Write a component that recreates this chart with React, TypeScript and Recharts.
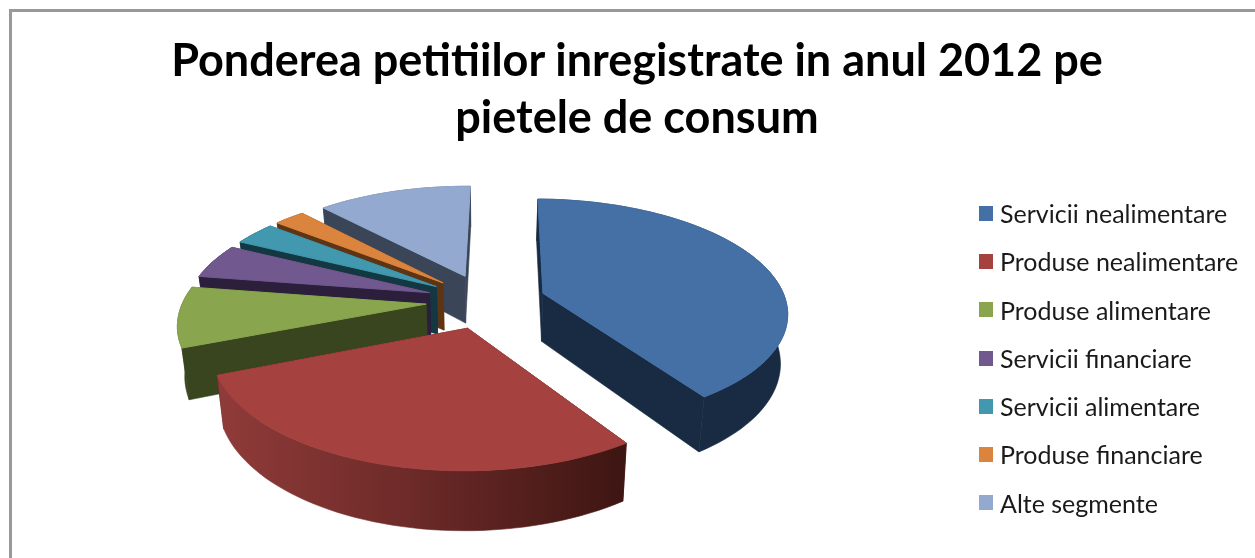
import { PieChart, Pie, Cell, Legend } from "recharts";

const categories = [
  "Servicii nealimentare",
  "Produse nealimentare",
  "Produse alimentare",
  "Servicii financiare",
  "Servicii alimentare",
  "Produse financiare",
  "Alte segmente",
];
const shares = [40.4, 28.3, 8.5, 4.9, 3.3, 2.4, 12.1];
const titleLines = ["Ponderea petitiilor inregistrate in anul 2012 pe", "pietele de consum"];

const topColors = ["#4470A5", "#A54240", "#89A54E", "#71588F", "#4198AF", "#DB843D", "#93A9CF"];
const wallColors = ["#182B42", "url(#redWall)", "#38451F", "#2B1F3C", "#133842", "#5E3514", "#3A4558"];

// painted back to front, so the pie goes through the slices in reverse
const rows = categories
  .map((name, i) => ({ name, value: shares[i], index: i }))
  .reverse();

const FONT = "Lato, Carlito, sans-serif";
const TILT = 0.457;
const PERSPECTIVE = 0.155;
const EXPLODE = 60;
const DEPTH = 48.5;

function Slice3D(props: any) {
  const { cx, cy, outerRadius: R, startAngle, endAngle, fill, payload } = props;
  const index = payload.index;
  const mid = ((startAngle + endAngle) / 2) * (Math.PI / 180);
  const ox = EXPLODE * Math.cos(mid);
  const oz = EXPLODE * Math.sin(mid);

  const project = (X: number, Z: number, lower: boolean) => {
    const s = 1 / (1 + (PERSPECTIVE * Z) / R);
    const x = cx + X * s * (lower ? 0.976 : 1);
    const y = cy - TILT * Z * s + (lower ? DEPTH * s : 0);
    return [x, y];
  };
  const ptsOf = (list: number[][]) => list.map((p) => p[0].toFixed(1) + "," + p[1].toFixed(1)).join(" ");

  const rim: number[][] = [];
  const steps = Math.max(4, Math.ceil(Math.abs(endAngle - startAngle) / 2));
  for (let i = 0; i <= steps; i++) {
    const a = ((startAngle + ((endAngle - startAngle) * i) / steps) * Math.PI) / 180;
    rim.push([ox + R * Math.cos(a), oz + R * Math.sin(a)]);
  }
  const top = [[ox, oz], ...rim].map((p) => project(p[0], p[1], false));
  const rimTop = rim.map((p) => project(p[0], p[1], false));
  const rimLow = rim.map((p) => project(p[0], p[1], true));
  const apexTop = project(ox, oz, false);
  const apexLow = project(ox, oz, true);
  const wall = wallColors[index];
  const sideFill = index === 1 ? "#3D1512" : wall;

  return (
    <g>
      <polygon
        points={ptsOf([apexTop, rimTop[0], rimLow[0], apexLow])}
        fill={sideFill}
        stroke={sideFill}
        strokeWidth={0.6}
      />
      <polygon
        points={ptsOf([apexTop, rimTop[steps], rimLow[steps], apexLow])}
        fill={sideFill}
        stroke={sideFill}
        strokeWidth={0.6}
      />
      <polygon points={ptsOf([...rimTop, ...rimLow.slice().reverse()])} fill={wall} stroke={wall} strokeWidth={0.6} />
      <polygon points={ptsOf(top)} fill={fill} stroke={fill} strokeWidth={1} />
    </g>
  );
}

function LegendList() {
  return (
    <div style={{ fontFamily: FONT, fontSize: 25, color: "#1a1a1a", lineHeight: "48.3px" }}>
      {categories.map((name, i) => (
        <div key={name} style={{ display: "flex", alignItems: "center", whiteSpace: "nowrap" }}>
          <span style={{ width: 14, height: 15, background: topColors[i], marginRight: 7 }} />
          {name}
        </div>
      ))}
    </div>
  );
}

export default function App() {
  return (
    <div
      style={{
        position: "absolute",
        left: 0,
        top: 0,
        width: 1255,
        height: 558,
        background: "#fff",
        overflow: "hidden",
        filter: "blur(0.6px)",
      }}
    >
      <div
        style={{
          position: "absolute",
          left: 9,
          top: 9,
          width: 1300,
          height: 600,
          borderLeft: "3px solid #999",
          borderTop: "3px solid #999",
        }}
      />
      <PieChart
        width={1255}
        height={558}
        margin={{ top: 0, right: 0, bottom: 0, left: 0 }}
        style={{ position: "absolute", left: 0, top: 0 }}
      >
        <defs>
          <linearGradient id="redWall" gradientUnits="userSpaceOnUse" x1="220" y1="0" x2="628" y2="0">
            <stop offset="0" stopColor="#8F3B39" />
            <stop offset="0.45" stopColor="#6E2B29" />
            <stop offset="1" stopColor="#3D1512" />
          </linearGradient>
        </defs>
        <text x={637} y={76} textAnchor="middle" fontFamily={FONT} fontWeight={700} fontSize={45} fill="#000">
          {titleLines[0]}
        </text>
        <text x={637} y={133} textAnchor="middle" fontFamily={FONT} fontWeight={700} fontSize={45} fill="#000">
          {titleLines[1]}
        </text>
        <Pie
          data={rows}
          dataKey="value"
          nameKey="name"
          cx={486}
          cy={301}
          outerRadius={243}
          startAngle={89.3}
          endAngle={449.3}
          stroke="none"
          shape={Slice3D}
          isAnimationActive={false}
        >
          {rows.map((r) => (
            <Cell key={r.name} fill={topColors[r.index]} />
          ))}
        </Pie>
        <Legend
          layout="vertical"
          align="right"
          verticalAlign="middle"
          wrapperStyle={{ left: 979, top: 189, width: 276, right: "auto" }}
          content={<LegendList />}
        />
      </PieChart>
    </div>
  );
}
